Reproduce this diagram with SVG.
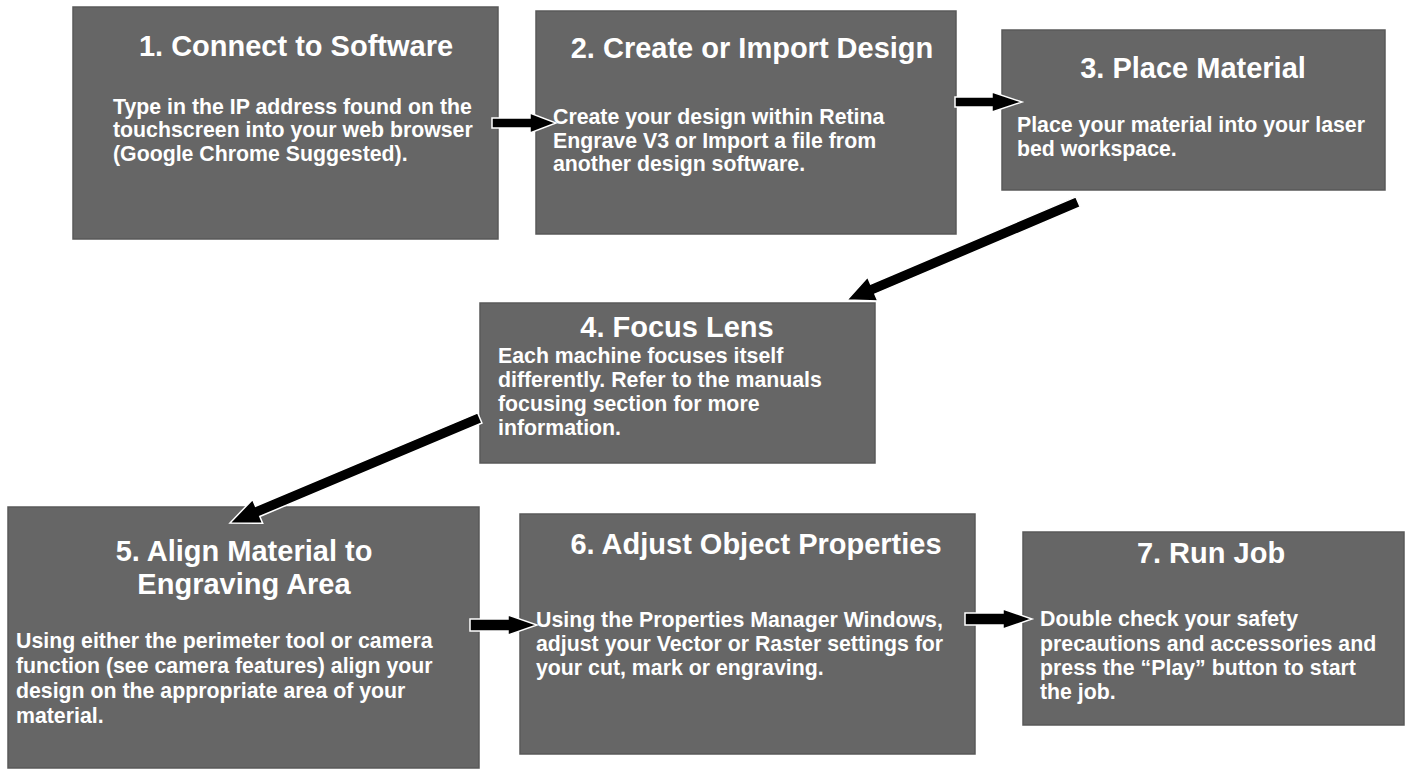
<svg xmlns="http://www.w3.org/2000/svg" width="1408" height="772" viewBox="0 0 1408 772">
<style>
  .box { fill: #666666; stroke: #595959; stroke-width: 1.5; }
  .title { font-family: "Liberation Sans", Arial, sans-serif; font-weight: bold; font-size: 29px; fill: #ffffff; text-anchor: middle; }
  .body { font-family: "Liberation Sans", Arial, sans-serif; font-weight: bold; font-size: 21.3px; fill: #ffffff; }
  .arrow { fill: #000000; stroke: #ffffff; stroke-width: 1.5; stroke-linejoin: miter; }
</style>
<rect width="1408" height="772" fill="#ffffff"/>

<g id="node1">
  <rect class="box" x="73" y="7" width="425" height="232"/>
  <text class="title" x="296" y="56">1. Connect to Software</text>
  <text class="body" x="113" y="114">Type in the IP address found on the</text>
  <text class="body" x="113" y="137">touchscreen into your web browser</text>
  <text class="body" x="113" y="161">(Google Chrome Suggested).</text>
</g>

<g id="node2">
  <rect class="box" x="536" y="11" width="420" height="223"/>
  <text class="title" x="752" y="58">2. Create or Import Design</text>
  <text class="body" x="553" y="124">Create your design within Retina</text>
  <text class="body" x="553" y="148">Engrave V3 or Import a file from</text>
  <text class="body" x="553" y="171">another design software.</text>
</g>

<g id="node3">
  <rect class="box" x="1002" y="30" width="383" height="160"/>
  <text class="title" x="1193" y="78">3. Place Material</text>
  <text class="body" x="1017" y="132">Place your material into your laser</text>
  <text class="body" x="1017" y="156">bed workspace.</text>
</g>

<g id="node4">
  <rect class="box" x="480" y="303" width="395" height="160"/>
  <text class="title" x="677" y="337">4. Focus Lens</text>
  <text class="body" x="498" y="363">Each machine focuses itself</text>
  <text class="body" x="498" y="387">differently. Refer to the manuals</text>
  <text class="body" x="498" y="411">focusing section for more</text>
  <text class="body" x="498" y="435">information.</text>
</g>

<g id="node5">
  <rect class="box" x="8" y="507" width="471" height="261"/>
  <text class="title" x="244" y="561">5. Align Material to</text>
  <text class="title" x="244" y="594">Engraving Area</text>
  <text class="body" x="16" y="648">Using either the perimeter tool or camera</text>
  <text class="body" x="16" y="673">function (see camera features) align your</text>
  <text class="body" x="16" y="698">design on the appropriate area of your</text>
  <text class="body" x="16" y="723">material.</text>
</g>

<g id="node6">
  <rect class="box" x="520" y="514" width="455" height="240"/>
  <text class="title" x="756" y="554">6. Adjust Object Properties</text>
  <text class="body" x="536" y="627">Using the Properties Manager Windows,</text>
  <text class="body" x="536" y="651">adjust your Vector or Raster settings for</text>
  <text class="body" x="536" y="675">your cut, mark or engraving.</text>
</g>

<g id="node7">
  <rect class="box" x="1023" y="532" width="381" height="193"/>
  <text class="title" x="1211" y="563">7. Run Job</text>
  <text class="body" x="1040" y="626">Double check your safety</text>
  <text class="body" x="1040" y="651">precautions and accessories and</text>
  <text class="body" x="1040" y="675">press the “Play” button to start</text>
  <text class="body" x="1040" y="699">the job.</text>
</g>

<g id="connectors">
  <polygon class="arrow" points="492,118 530,118 530,113 556,123 530,133 530,128 492,128"/>
  <polygon class="arrow" points="955,97 992,97 992,92 1022,102 992,112 992,107 955,107"/>
  <g transform="translate(847,300) rotate(157)">
    <polygon class="arrow" points="-251,-5.5 -28,-5.5 -28,-13 0,0 -28,13 -28,5.5 -251,5.5"/>
  </g>
  <g transform="translate(230,523) rotate(157.2)">
    <polygon class="arrow" points="-271,-5.5 -30,-5.5 -30,-13 0,0 -30,13 -30,5.5 -271,5.5"/>
  </g>
  <polygon class="arrow" points="470,619 508,619 508,615 537,625 508,635 508,631 470,631"/>
  <polygon class="arrow" points="965,613 1003,613 1003,609 1032,619 1003,629 1003,625 965,625"/>
</g>
</svg>
